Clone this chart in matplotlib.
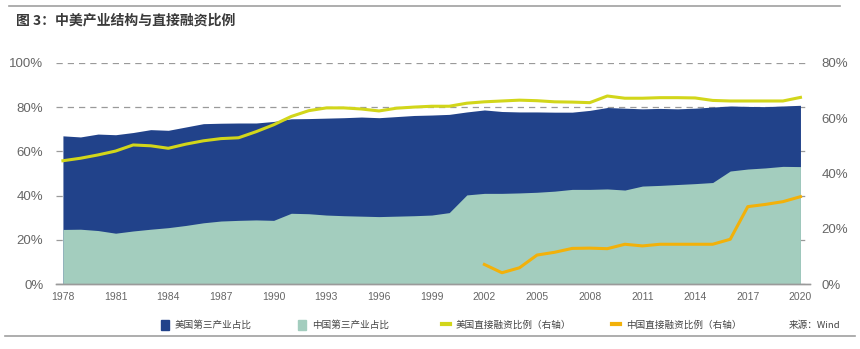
import matplotlib
import numpy as np
from matplotlib import pyplot as plt
from matplotlib.lines import Line2D
from matplotlib.patches import Patch

plt.rcParams["font.family"] = ["Noto Sans CJK SC", "DejaVu Sans"]

years = list(range(1978, 2021))
us_tertiary = [67.0, 66.5, 67.8, 67.5, 68.5, 69.8, 69.5, 71.0, 72.5, 72.7,
               72.8, 72.8, 73.5, 74.7, 74.8, 75.0, 75.2, 75.5, 75.2, 75.7,
               76.2, 76.4, 76.7, 77.8, 78.7, 78.0, 77.8, 77.8, 77.7, 77.7,
               78.5, 79.8, 79.5, 79.2, 79.4, 79.2, 79.5, 80.0, 80.5, 80.3,
               80.2, 80.5, 80.8]
cn_tertiary = [24.7, 24.8, 24.2, 23.0, 24.0, 24.8, 25.5, 26.5, 27.7, 28.5,
               28.8, 29.0, 28.8, 32.0, 31.8, 31.2, 30.9, 30.7, 30.5, 30.7,
               30.9, 31.2, 32.3, 40.3, 41.0, 41.0, 41.2, 41.5, 42.0, 42.8,
               42.8, 43.0, 42.5, 44.3, 44.6, 45.0, 45.4, 45.9, 51.1, 52.0,
               52.5, 53.2, 53.1]
us_direct = [44.6, 45.5, 46.7, 48.1, 50.3, 50.0, 49.1, 50.6, 51.8, 52.6,
             52.9, 55.1, 57.6, 60.6, 62.7, 63.7, 63.7, 63.3, 62.6, 63.6,
             64.0, 64.3, 64.3, 65.4, 65.9, 66.2, 66.5, 66.3, 65.9, 65.8,
             65.6, 68.0, 67.2, 67.2, 67.4, 67.4, 67.3, 66.4, 66.2, 66.2,
             66.2, 66.2, 67.5]
cn_years = list(range(2002, 2021))
cn_direct = [7.1, 4.1, 5.9, 10.5, 11.5, 12.9, 13.0, 12.8, 14.4, 13.8,
             14.4, 14.4, 14.4, 14.4, 16.2, 28.0, 28.8, 29.8, 31.6]

navy = "#21428a"
mint = "#a3cdbe"
lime = "#d2d61a"
amber = "#f2b10a"
grid_c = "#9a9a9a"
text_c = "#666666"

fig = plt.figure(figsize=(8.6, 3.49), dpi=100)
ax = fig.add_axes([0.065, 0.186, 0.877, 0.634])
ax2 = ax.twinx()

ax.fill_between(years, 0, us_tertiary, color=navy, lw=0)
ax.fill_between(years, 0, cn_tertiary, color=mint, lw=0)
ax2.plot(years, us_direct, color=lime, lw=2.2, solid_joinstyle="round")
ax2.plot(cn_years, cn_direct, color=amber, lw=2.2, solid_joinstyle="round")

ax.set_xlim(1977.6, 2020.55)
ax.set_ylim(0, 100)
ax2.set_ylim(0, 80)

ax.set_axisbelow(True)
ax.grid(axis="y", color=grid_c, ls=(0, (5, 4)), lw=0.9)
ax.set_xticks(range(1978, 2021, 3))
ax.set_yticks(range(0, 101, 20))
ax.set_yticklabels([f"{v}%" for v in range(0, 101, 20)])
ax2.set_yticks(range(0, 81, 20))
ax2.set_yticklabels([f"{v}%" for v in range(0, 81, 20)])

for a in (ax, ax2):
    for s in ("top", "left", "right"):
        a.spines[s].set_visible(False)
    a.spines["bottom"].set_color(grid_c)
    a.spines["bottom"].set_linewidth(1.0)
ax.tick_params(axis="x", length=0, pad=6, labelsize=7.5, labelcolor=text_c)
ax.tick_params(axis="y", length=0, pad=9, labelsize=9.5, labelcolor=text_c)
ax2.tick_params(axis="y", length=0, pad=8, labelsize=9.5, labelcolor=text_c)
for lab in ax.get_xticklabels() + ax.get_yticklabels() + ax2.get_yticklabels():
    lab.set_family("Liberation Sans")

fig.text(0.019, 0.94, "图 3：中美产业结构与直接融资比例", fontsize=10,
         fontweight="bold", color="#3a3a3a", va="center")
fig.add_artist(Line2D([0.011, 0.977], [0.983, 0.983], color="#a0a0a0", lw=1.2))
fig.add_artist(Line2D([0.006, 0.994], [0.037, 0.037], color="#a0a0a0", lw=1.2))

handles = [
    Patch(color=navy, label="美国第三产业占比"),
    Patch(color=mint, label="中国第三产业占比"),
    Line2D([], [], color=lime, lw=3, label="美国直接融资比例（右轴）"),
    Line2D([], [], color=amber, lw=3, label="中国直接融资比例（右轴）"),
]
leg_x = [161, 298, 442, 612]
for h, x in zip(handles, leg_x):
    leg = fig.legend(handles=[h], loc="center left",
                     bbox_to_anchor=(x / 860, 0.069), frameon=False,
                     fontsize=6.9, handlelength=0.85, handleheight=1.2,
                     handletextpad=0.6, borderpad=0, borderaxespad=0)
    for t in leg.get_texts():
        t.set_color("#444444")
fig.text(0.977, 0.069, "来源：Wind", fontsize=6.9, color="#444444",
         ha="right", va="center")

fig.savefig("out.png", dpi=100)
